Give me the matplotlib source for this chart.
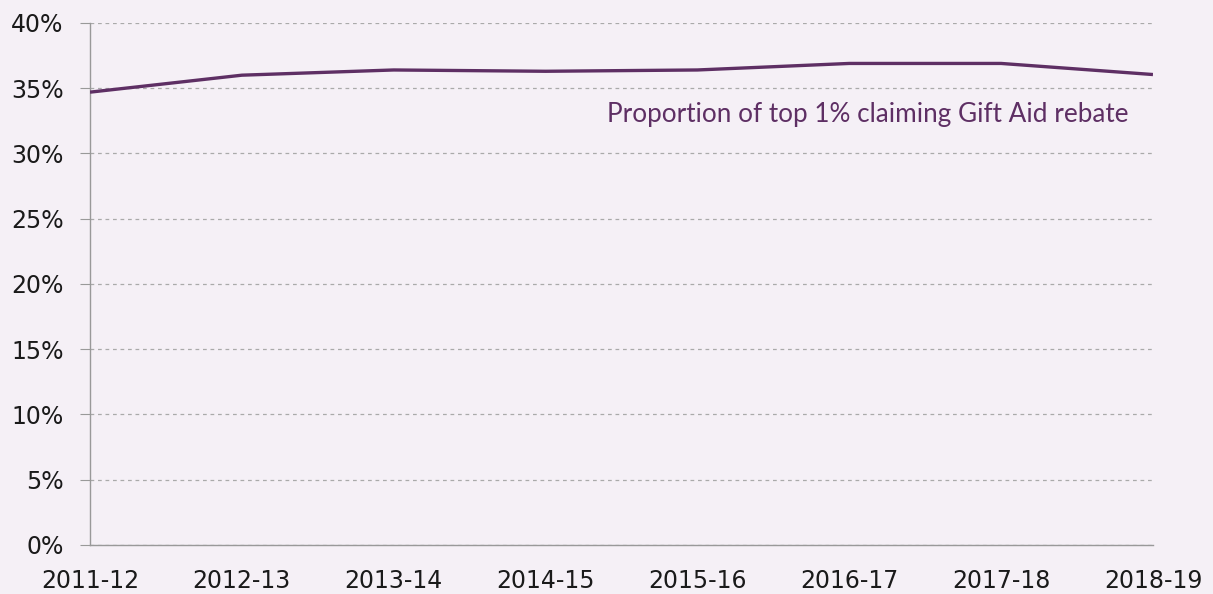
import matplotlib
matplotlib.use("Agg")
import matplotlib.pyplot as plt
from matplotlib.ticker import PercentFormatter

years = ["2011-12", "2012-13", "2013-14", "2014-15", "2015-16", "2016-17", "2017-18", "2018-19"]
share = [34.7, 36.0, 36.4, 36.3, 36.4, 36.9, 36.9, 36.05]

bg = "#f5f0f6"
purple = "#5e2f64"

plt.rcParams["font.family"] = ["DejaVu Sans"]

fig = plt.figure(figsize=(12.13, 5.94), dpi=100, facecolor=bg)
ax = fig.add_axes([0.0742, 0.0825, 0.8763, 0.8788], facecolor=bg)

x = list(range(len(years)))
ax.plot(x, share, color=purple, lw=2.4, solid_capstyle="butt", zorder=3)

ax.set_xlim(0, len(years) - 1)
ax.set_ylim(0, 40)
ax.set_yticks(range(0, 41, 5))
ax.yaxis.set_major_formatter(PercentFormatter(decimals=0))
ax.set_xticks(x)
ax.set_xticklabels(years)

ax.grid(axis="y", color="#aaaaaa", ls=(0, (3, 3)), lw=0.9)
ax.set_axisbelow(True)
for s in ["top", "right"]:
    ax.spines[s].set_visible(False)
for s in ["left", "bottom"]:
    ax.spines[s].set_color("#999999")
    ax.spines[s].set_linewidth(1.0)

ax.tick_params(axis="y", length=7, color="#999999", labelsize=17, pad=12, labelcolor="#1a1a1a")
ax.tick_params(axis="x", length=0, labelsize=17, pad=17, labelcolor="#1a1a1a")

ax.text(6.84, 32.95, "Proportion of top 1% claiming Gift Aid rebate", color=purple,
        fontsize=18.8, ha="right", va="center", family=["Lato", "DejaVu Sans"])

fig.savefig("out.png", dpi=100, facecolor=bg)
